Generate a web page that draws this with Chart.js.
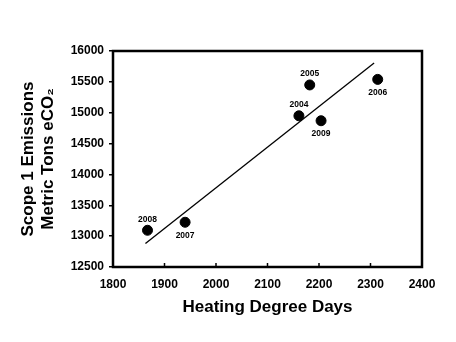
<!DOCTYPE html>
<html>
<head>
<meta charset="utf-8">
<script src="https://cdn.jsdelivr.net/npm/chart.js@4/dist/chart.umd.min.js"></script>
<style>
  body { margin: 0; background: #fff; }
</style>
</head>
<body>
<canvas id="myChart" width="456" height="342"></canvas>
<script>
// scatter of emissions vs heating degree days, with a fitted line

let years = ['2004', '2005', '2006', '2007', '2008', '2009'];
let degreeDays = [2161, 2182, 2314, 1940, 1867, 2204];
let emissions = [14950, 15450, 15540, 13225, 13095, 14870];
let labelSide = ['above', 'above', 'below', 'below', 'above', 'below'];

let trendX = [1863, 2307];
let trendY = [12880, 15805];

let xTicks = [1800, 1900, 2000, 2100, 2200, 2300, 2400];

let font = 'Arial, "Liberation Sans", sans-serif';

// year labels next to each point
let yearLabels = {
  id: 'yearLabels',
  afterDatasetsDraw(chart) {
    let c = chart.ctx;
    let meta = chart.getDatasetMeta(0);
    c.save();
    c.fillStyle = '#000';
    c.font = 'bold 8.5px ' + font;
    c.textAlign = 'center';
    c.textBaseline = 'middle';
    meta.data.forEach((pt, i) => {
      let dy = labelSide[i] === 'above' ? -11 : 13;
      c.fillText(years[i], pt.x, pt.y + dy);
    });
    c.restore();
  }
};

// box around the plot + inward ticks on the x axis
let frame = {
  id: 'frame',
  afterDraw(chart) {
    let a = chart.chartArea;
    let c = chart.ctx;
    let xs = chart.scales.x;
    c.save();
    c.strokeStyle = '#000';
    c.lineWidth = 1.5;
    xTicks.forEach((v) => {
      let px = xs.getPixelForValue(v);
      c.beginPath();
      c.moveTo(px, a.bottom);
      c.lineTo(px, a.bottom - 4);
      c.stroke();
    });
    c.lineWidth = 2.5;
    c.strokeRect(a.left, a.top, a.right - a.left, a.bottom - a.top);
    c.restore();
  }
};

let ctx = document.getElementById('myChart').getContext('2d');

let myChart = new Chart(ctx, {
  type: 'scatter',
  data: {
    datasets: [{
      data: degreeDays.map((x, i) => ({ x: x, y: emissions[i] })),
      backgroundColor: '#000',
      borderColor: '#000',
      pointRadius: 5,
      pointHoverRadius: 5
    }, {
      type: 'line',
      data: trendX.map((x, i) => ({ x: x, y: trendY[i] })),
      borderColor: '#000',
      borderWidth: 1.3,
      pointRadius: 0,
      fill: false
    }]
  },
  options: {
    responsive: false,
    animation: false,
    layout: {
      padding: { left: 18, right: 34, top: 51, bottom: 0 }
    },
    plugins: {
      legend: { display: false },
      tooltip: { enabled: false }
    },
    scales: {
      x: {
        type: 'linear',
        min: 1800,
        max: 2400,
        afterFit: (scale) => { scale.height = 75; },
        afterBuildTicks: (scale) => { scale.ticks = xTicks.map((v) => ({ value: v })); },
        grid: { display: false, drawTicks: false },
        border: { display: false },
        ticks: {
          color: '#000',
          padding: 10,
          maxRotation: 0,
          callback: (v) => String(v),
          font: { family: font, size: 12, weight: 'bold' }
        },
        title: {
          display: true,
          text: 'Heating Degree Days',
          color: '#000',
          padding: { top: 0, bottom: 24 },
          font: { family: font, size: 17, weight: 'bold' }
        }
      },
      y: {
        min: 12500,
        max: 16000,
        afterFit: (scale) => { scale.width = 95; },
        grid: {
          drawOnChartArea: false,
          drawTicks: true,
          tickLength: 4,
          color: '#000',
          lineWidth: 1.5
        },
        border: { display: false },
        ticks: {
          stepSize: 500,
          color: '#000',
          padding: 5,
          callback: (v) => String(v),
          font: { family: font, size: 12, weight: 'bold' }
        },
        title: {
          display: true,
          text: ['Scope 1 Emissions', 'Metric Tons eCO\u2082'],
          color: '#000',
          padding: { top: 0, bottom: 0 },
          font: { family: font, size: 17, weight: 'bold' }
        }
      }
    }
  },
  plugins: [yearLabels, frame]
});
</script>
</body>
</html>
